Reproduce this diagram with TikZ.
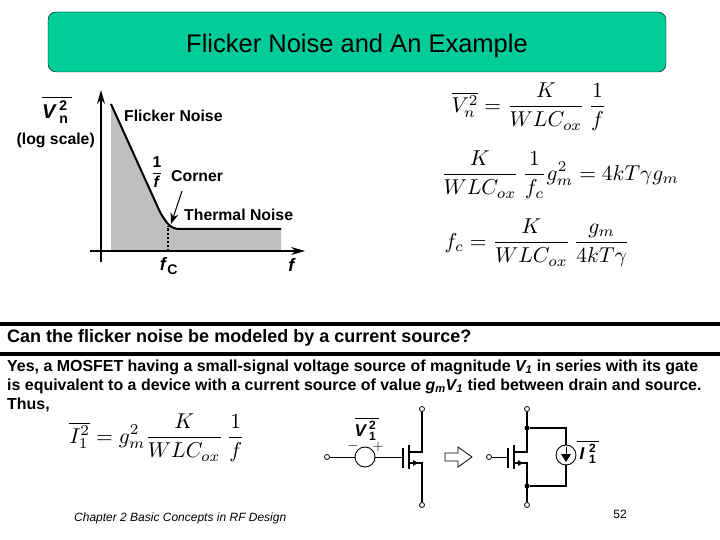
\documentclass[tikz,border=0pt]{standalone}
\usepackage{amsmath}
\usepackage{fontspec}
\setmainfont{Liberation Sans}
\usetikzlibrary{positioning, arrows.meta}
\definecolor{titlegreen}{RGB}{0,204,153}
\newcommand{\mfont}[1]{\fontsize{#1}{#1}\selectfont}
\newcommand{\bi}[1]{\textbf{\textit{#1}}}
\newcommand{\stacked}[4]{$\overline{\text{\bi{#1}}_{\,\text{\mfont{#4}\bfseries #2}}^{\,\text{\mfont{#4}\bfseries #3}}\,}$}
\tikzset{
x=1pt, y=-1pt,
>={Stealth[length=14pt, width=8pt]}, % arrow heads of the plot
txt/.style={inner sep=0pt, anchor=west, font=\mfont{15.95}\bfseries}, % the running text
lab/.style={inner sep=0pt, font=\mfont{15.8}\bfseries}, % labels of the plot
eqn/.style={inner sep=0pt, scale=2.15}, % the formulas
wire/.style={line width=1.5pt},
thin wire/.style={line width=0.8pt},
term/.style={circle, draw, line width=0.8pt, fill=white, inner sep=0pt, minimum size=5pt},
dot/.style={circle, fill=black, inner sep=0pt, minimum size=5pt},
source/.style={circle, draw, line width=0.9pt, fill=white, inner sep=0pt, minimum size=20pt},
}

\begin{document}
\begin{tikzpicture}
\useasboundingbox (0,0) rectangle (720,540);
% title
\node[draw, fill=titlegreen, rounded corners=8pt, minimum width=618pt, minimum height=60pt, inner sep=0pt, text height=21pt, text depth=0pt, font=\mfont{25.5}] (title) at (357,42) {Flicker Noise and An Example};

% plot
\coordinate (ybot) at (101,262);
\coordinate (ytop) at (101,90);
\coordinate (xleft) at (90,251);
\coordinate (xright) at (305,251);
\coordinate (fc) at (168,251);
\coordinate (knee) at (168,226);
\fill[black!25] (111,251) -- (111,104) -- (160,212) .. controls (168,226) and (172,229) .. (180,229) -- (281,229) -- (281,251) -- cycle;
\draw[line width=2pt] (111,104) -- (160,212) .. controls (168,226) and (172,229) .. (180,229) -- (281,229);
\draw[line width=1.4pt, dash pattern=on 2.5pt off 1.5pt] (fc) -- (knee);
\draw[line width=1.7pt, ->] (ybot) -- (ytop);
\draw[line width=1.2pt, ->] (xleft) -- (xright);
\node[lab, anchor=west] (flicker) at (124,116) {Flicker Noise};
\node[lab, anchor=west] (thermal) at (184,215) {Thermal Noise};
\node[lab, anchor=west] (corner) at (171,176) {Corner};
\node[lab, anchor=east] (logscale) at (95,140) {(log scale)};
\node[lab] (oneoverf) at (157,172) {$\dfrac{\textbf{1}}{\bi{f}}$};
\node[lab, font=\mfont{20}] (vn) at (57,110) {\stacked{V}{n}{2}{14}};
\node[lab] (fclabel) at (169,266) {\mfont{18}\bi{f}\textsubscript{\mfont{14}\bfseries C}};
\node[lab] (flabel) at (292,265) {\mfont{18}\bi{f}};
\coordinate (cornertail) at (182,191);
\draw[line width=1pt, -{Stealth[length=11pt, width=8pt]}] (cornertail) -- (171,224);

% formulas
\node[eqn] (eqvn) at (529,107) {$\displaystyle \overline{V_n^2}=\frac{K}{WLC_{ox}}\,\frac{1}{f}$};
\node[eqn] (eqcorner) at (560,175) {$\displaystyle \frac{K}{WLC_{ox}}\,\frac{1}{f_c}g_m^2=4kT\gamma g_m$};
\node[eqn] (eqfc) at (537,243) {$\displaystyle f_c=\frac{K}{WLC_{ox}}\,\frac{g_m}{4kT\gamma}$};
\node[eqn] (eqin) at (157,438) {$\displaystyle \overline{I_1^2}=g_m^2\frac{K}{WLC_{ox}}\,\frac{1}{f}$};

% question and answer
\draw[line width=3.5pt] (0,324) -- (720,324);
\draw[line width=3.5pt] (0,354) -- (720,354);
\node[txt, font=\mfont{18}\bfseries] (question) at (7,338) {Can the flicker noise be modeled by a current source?};
\node[txt] (line1) at (7,367) {Yes, a MOSFET having a small-signal voltage source of magnitude \textit{V\textsubscript{1}} in series with its gate};
\node[txt] (line2) at (7,386) {is equivalent to a device with a current source of value \textit{g\textsubscript{m}V\textsubscript{1}} tied between drain and source.};
\node[txt] (line3) at (7,405) {Thus,};

% left circuit
\node[term] (in1) at (327,457) {};
\node[source] (vs) at (365,457) {};
\node[term] (d1) at (422,409) {};
\node[term] (s1) at (422,505) {};
\node[font=\mfont{14}, inner sep=0pt] (minus) at (353,446) {$-$};
\node[font=\mfont{14}, inner sep=0pt] (plus) at (378,447) {$+$};
\node[lab, font=\mfont{17}] (v1) at (367,429) {\stacked{V}{1}{2}{12}};
\coordinate (g1) at (403,457);
\coordinate (ch1d) at (409,452);
\coordinate (ch1s) at (409,463);
\coordinate (bend1d) at (422,452);
\coordinate (bend1s) at (422,463);
\draw[thin wire] (in1) -- (vs) -- (g1);
\draw[line width=2pt] (403,448) -- (403,468);
\draw[line width=2pt] (409,445) -- (409,469);
\draw[wire] (ch1d) -- (bend1d) -- (d1);
\draw[wire] (ch1s) -- (bend1s) -- (s1);
\fill (418,463) -- (413,460) -- (413,466) -- cycle;

% hollow arrow
\draw[line width=0.8pt, fill=white] (445,453) -- (458,453) -- (458,447) -- (472,457) -- (458,467) -- (458,461) -- (445,461) -- cycle;

% right circuit
\node[term] (in2) at (489,457) {};
\node[term] (d2) at (527,409) {};
\node[term] (s2) at (527,505) {};
\node[dot] (top) at (527,428) {};
\node[dot] (bot) at (527,486) {};
\node[source] (is) at (566,455) {};
\node[lab, font=\mfont{17}] (i1) at (588,452) {\stacked{\,I\,}{1}{2}{12}};
\coordinate (g2) at (508,457);
\coordinate (ch2d) at (514,452);
\coordinate (ch2s) at (514,463);
\coordinate (bend2d) at (527,452);
\coordinate (bend2s) at (527,463);
\draw[thin wire] (in2) -- (g2);
\draw[line width=2pt] (508,448) -- (508,468);
\draw[line width=2pt] (514,445) -- (514,469);
\draw[wire] (ch2d) -- (bend2d) -- (d2);
\draw[wire] (ch2s) -- (bend2s) -- (s2);
\draw[wire] (top) -| (is);
\draw[wire] (bot) -| (is);
\fill (566,462) -- (561,454) -- (571,454) -- cycle;
\fill (523,463) -- (518,460) -- (518,466) -- cycle;
\draw[line width=1pt] (566,447) -- (566,456);

% footer
\node[inner sep=0pt, anchor=west, font=\mfont{12}\itshape] (chapter) at (74,518) {Chapter 2 Basic Concepts in RF Design};
\node[inner sep=0pt, font=\mfont{12}] (page) at (620,514) {52};
\end{tikzpicture}
\end{document}
